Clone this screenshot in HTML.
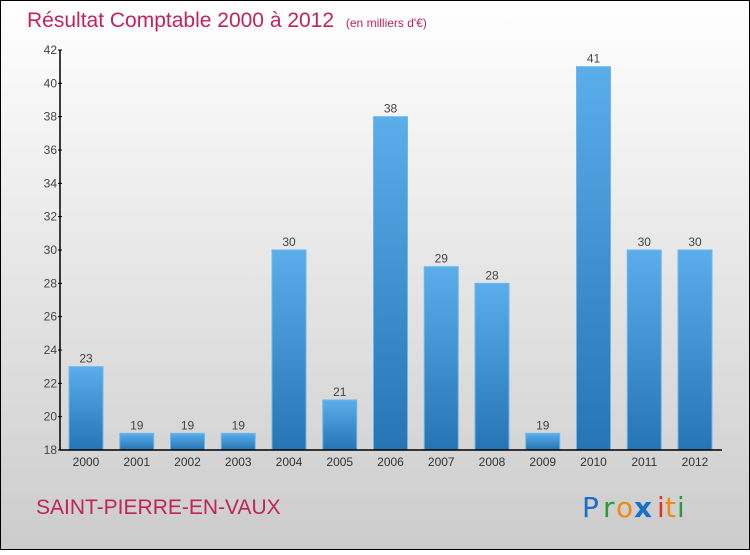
<!DOCTYPE html>
<html><head><meta charset="utf-8"><style>
body{margin:0;width:750px;height:550px;overflow:hidden;font-family:"Liberation Sans",sans-serif}
</style></head><body>
<svg id="c" width="750" height="550" xmlns="http://www.w3.org/2000/svg">
<defs>
<linearGradient id="bg" x1="0" y1="0" x2="0" y2="1"><stop offset="0" stop-color="#ffffff"/><stop offset="1" stop-color="#cccccc"/></linearGradient>
<linearGradient id="bar" x1="0" y1="0" x2="0" y2="1"><stop offset="0" stop-color="#5aaeea"/><stop offset="1" stop-color="#2674b4"/></linearGradient>
</defs>
<rect x="0.5" y="0.5" width="749" height="549" fill="url(#bg)" stroke="#000"/>
<text x="27" y="27" font-size="21" fill="#c0245a">Résultat Comptable 2000 à 2012 <tspan font-size="12" dx="6">(en milliers d'€)</tspan></text>
<g id="bars"></g>
<g id="axes"></g>
<text x="36" y="514" font-size="21" fill="#c0245a">SAINT-PIERRE-EN-VAUX</text>
<g font-size="28" font-family="'DejaVu Sans',sans-serif">
<text x="582" y="517" fill="#1a6fc9">P</text><text x="603" y="517" fill="#2e9a3a">r</text><text x="616" y="517" fill="#f08a10">o</text><text x="634" y="517" fill="#1a6fc9" font-weight="bold">x</text><text x="657" y="517" fill="#e03020">i</text><text x="665" y="517" fill="#f08a10">t</text><text x="677" y="517" fill="#2e9a3a">i</text>
</g>
</svg>
<script>
const years=["2000","2001","2002","2003","2004","2005","2006","2007","2008","2009","2010","2011","2012"];
const values=[23,19,19,19,30,21,38,29,28,19,41,30,30];
const yTicks=[18,20,22,24,26,28,30,32,34,36,38,40,42];
const NS="http://www.w3.org/2000/svg";
const x0=60,x1=722,yTop=50,yBot=450,vmin=18,vmax=42;
const y=v=>yBot-(v-vmin)/(vmax-vmin)*(yBot-yTop);
const step=50.75,bw=34,first=86;
const xc=i=>first+i*step;
function mk(t,a,p){const e=document.createElementNS(NS,t);for(const k in a)e.setAttribute(k,a[k]);p.appendChild(e);return e;}
const bars=document.getElementById('bars'),axes=document.getElementById('axes');
values.forEach((v,i)=>{
 const r=mk('rect',{x:xc(i)-bw/2,y:y(v),width:bw,height:yBot-y(v),fill:'url(#bar)',stroke:'#6bb8ee','stroke-width':1},bars);
 
 
 const t=mk('text',{x:xc(i),y:y(v)-4,'text-anchor':'middle','font-size':12,fill:'#444'},bars);
 t.textContent=v;
 
 
 const xl=mk('text',{x:xc(i),y:yBot+16,'text-anchor':'middle','font-size':12,fill:'#333'},axes);
 xl.textContent=years[i];
 
 
});
const ya=mk('line',{x1:x0,y1:yTop,x2:x0,y2:yBot,stroke:'#000','stroke-width':1.5},axes);


const xa=mk('line',{x1:x0,y1:yBot,x2:x1,y2:yBot,stroke:'#000','stroke-width':1.5},axes);


yTicks.forEach(v=>{
 mk('line',{x1:x0-2,y1:y(v),x2:x0+2,y2:y(v),stroke:'#000'},axes);
 const t=mk('text',{x:x0-3,y:y(v)+4,'text-anchor':'end','font-size':12,fill:'#444'},axes);
 t.textContent=v;
 
 
});
</script>
</body></html>
